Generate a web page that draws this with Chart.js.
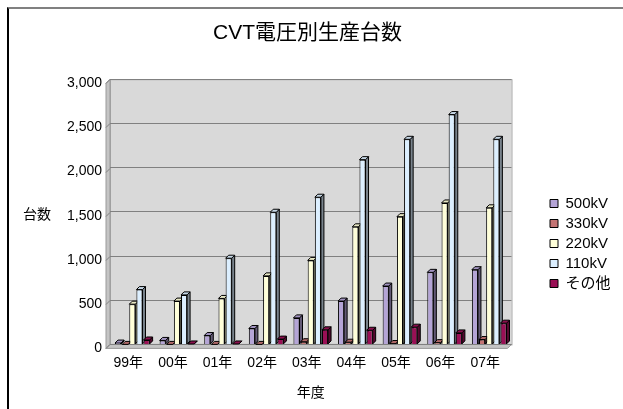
<!DOCTYPE html>
<html>
<head>
<meta charset="utf-8">
<script src="https://cdn.jsdelivr.net/npm/chart.js@4.4.1/dist/chart.umd.min.js"></script>
<style>
  html, body { margin: 0; padding: 0; background: #fff; overflow: hidden; }
  #wrap { position: relative; width: 623px; height: 409px; }
  #frame {
    position: absolute; left: 7px; top: 7px; width: 700px; height: 500px;
    border-left: 2px solid #000; border-top: 2px solid #808080;
    pointer-events: none;
  }
</style>
</head>
<body>
<div id="wrap">
  <canvas id="cvt" width="623" height="409"></canvas>
  <div id="frame"></div>
</div>
<script>
// CVT production by voltage class (units per fiscal year)
const years = ['99年', '00年', '01年', '02年', '03年', '04年', '05年', '06年', '07年'];
const kv500 = [15, 45, 100, 180, 300, 490, 660, 815, 845];
const kv330 = [0, 0, 0, 0, 30, 25, 10, 20, 55];
const kv220 = [455, 490, 520, 775, 950, 1330, 1445, 1600, 1545];
const kv110 = [620, 560, 975, 1495, 1665, 2090, 2320, 2600, 2320];
const other = [50, 5, 5, 60, 165, 160, 195, 130, 240];
const yTicks = [0, 500, 1000, 1500, 2000, 2500, 3000];

const FONT = "'Liberation Sans', 'Noto Sans CJK JP', sans-serif";
const WALL_DEPTH = 4;
const BAR_DEPTH = 3;

function shade(hex, f) {
  const n = parseInt(hex.slice(1), 16);
  const r = Math.round(((n >> 16) & 255) * f);
  const g = Math.round(((n >> 8) & 255) * f);
  const b = Math.round((n & 255) * f);
  return `rgb(${r},${g},${b})`;
}

// back wall, left wall and floor of the 3D box
const wall3d = {
  id: 'wall3d',
  beforeDraw(chart) {
    const { ctx, chartArea: a } = chart;
    const d = WALL_DEPTH;
    ctx.save();
    ctx.fillStyle = '#d9d9d9';
    ctx.fillRect(a.left, a.top, a.right - a.left, a.bottom - a.top);
    ctx.strokeStyle = '#a6a6a6';
    ctx.lineWidth = 1;
    ctx.strokeRect(a.left + 0.5, a.top + 0.5, a.right - a.left, a.bottom - a.top);

    ctx.fillStyle = '#c4c4c4';
    ctx.strokeStyle = '#9a9a9a';
    ctx.beginPath();
    ctx.moveTo(a.left, a.top);
    ctx.lineTo(a.left - d, a.top + d);
    ctx.lineTo(a.left - d, a.bottom + d);
    ctx.lineTo(a.left, a.bottom);
    ctx.closePath();
    ctx.fill();
    ctx.stroke();

    ctx.beginPath();
    ctx.moveTo(a.left, a.bottom);
    ctx.lineTo(a.right, a.bottom);
    ctx.lineTo(a.right - d, a.bottom + d);
    ctx.lineTo(a.left - d, a.bottom + d);
    ctx.closePath();
    ctx.fill();
    ctx.stroke();

    // small slanted ticks joining the labels to the wall
    const y = chart.scales.y;
    ctx.strokeStyle = '#808080';
    yTicks.forEach(v => {
      const py = Math.round(y.getPixelForValue(v)) + 0.5;
      ctx.beginPath();
      ctx.moveTo(a.left, py);
      ctx.lineTo(a.left - d, py + d);
      ctx.stroke();
    });
    ctx.restore();
  }
};

// side and top faces of each bar, drawn before the fronts
const bar3d = {
  id: 'bar3d',
  beforeDatasetsDraw(chart) {
    const ctx = chart.ctx;
    const d = BAR_DEPTH;
    ctx.save();
    ctx.lineWidth = 1;
    ctx.strokeStyle = '#000';
    chart.data.datasets.forEach((ds, i) => {
      chart.getDatasetMeta(i).data.forEach(bar => {
        const { x, y, base, width } = bar.getProps(['x', 'y', 'base', 'width'], true);
        const l = x - width / 2, r = x + width / 2;
        ctx.fillStyle = shade(ds.backgroundColor, 0.55);
        ctx.beginPath();
        ctx.moveTo(r, y);
        ctx.lineTo(r + d, y - d);
        ctx.lineTo(r + d, base - d);
        ctx.lineTo(r, base);
        ctx.closePath();
        ctx.fill();
        ctx.stroke();
        ctx.fillStyle = shade(ds.backgroundColor, 0.9);
        ctx.beginPath();
        ctx.moveTo(l, y);
        ctx.lineTo(l + d, y - d);
        ctx.lineTo(r + d, y - d);
        ctx.lineTo(r, y);
        ctx.closePath();
        ctx.fill();
        ctx.stroke();
      });
    });
    ctx.restore();
  }
};

// legend placement, frame and the horizontal y-axis title
const LEGEND_LEFT = 545;
const LEGEND_TOP = 191;
const extras = {
  id: 'extras',
  afterLayout(chart) {
    const lg = chart.legend;
    const w = lg.width, h = lg.height;
    lg.left = LEGEND_LEFT;
    lg.right = LEGEND_LEFT + w;
    lg.top = LEGEND_TOP;
    lg.bottom = LEGEND_TOP + h;
    lg.adjustHitBoxes();
  },
  afterDraw(chart) {
    const { ctx } = chart;
    const boxes = chart.legend.legendHitBoxes;
    const left = Math.min(...boxes.map(b => b.left)) - 4;
    const right = Math.max(...boxes.map(b => b.left + b.width)) + 5;
    const top = Math.min(...boxes.map(b => b.top)) - 3;
    const bottom = Math.max(...boxes.map(b => b.top + b.height)) + 3;
    ctx.save();
    ctx.strokeStyle = '#000';
    ctx.lineWidth = 1;
    ctx.strokeRect(Math.round(left) + 0.5, Math.round(top) + 0.5, Math.round(right - left), Math.round(bottom - top));

    ctx.fillStyle = '#000';
    ctx.font = `14px ${FONT}`;
    ctx.textAlign = 'center';
    ctx.textBaseline = 'middle';
    ctx.fillText('台数', 37, 215);
    ctx.restore();
  }
};

new Chart(document.getElementById('cvt'), {
  type: 'bar',
  data: {
    labels: years,
    datasets: [
      { label: '500kV', data: kv500, backgroundColor: '#b4a4d6' },
      { label: '330kV', data: kv330, backgroundColor: '#c47474' },
      { label: '220kV', data: kv220, backgroundColor: '#ffffd9' },
      { label: '110kV', data: kv110, backgroundColor: '#dcefff' },
      { label: 'その他', data: other, backgroundColor: '#9a0f55' }
    ].map(ds => Object.assign(ds, {
      borderColor: '#000',
      borderWidth: 1,
      categoryPercentage: 0.8,
      barPercentage: 0.85
    }))
  },
  options: {
    responsive: false,
    animation: false,
    layout: { padding: { left: 28, right: 36, top: 21, bottom: 4 } },
    plugins: {
      title: {
        display: true,
        text: 'CVT電圧別生産台数',
        color: '#000',
        font: { family: FONT, size: 21, weight: 'normal' },
        padding: { top: 0, bottom: 33 }
      },
      legend: {
        position: 'right',
        align: 'start',
        labels: {
          color: '#000',
          font: { family: FONT, size: 15 },
          boxWidth: 8,
          boxHeight: 8,
          padding: 5
        }
      },
      tooltip: { enabled: false }
    },
    scales: {
      x: {
        grid: { display: false, drawTicks: false },
        border: { display: false },
        ticks: { color: '#000', font: { family: FONT, size: 14 }, padding: 10, labelOffset: -4 },
        title: {
          display: true,
          text: '年度',
          color: '#000',
          font: { family: FONT, size: 14 },
          padding: { top: 4, bottom: 3 }
        }
      },
      y: {
        min: 0,
        max: 3000,
        afterFit(axis) { axis.width = 82; },
        afterBuildTicks(axis) { axis.ticks = yTicks.map(v => ({ value: v })); },
        ticks: {
          color: '#000',
          font: { family: FONT, size: 14 },
          padding: 8,
          labelOffset: 4,
          callback: v => v.toLocaleString('en-US')
        },
        grid: { color: '#808080', drawTicks: false },
        border: { display: false }
      }
    }
  },
  plugins: [wall3d, bar3d, extras]
});
</script>
</body>
</html>
